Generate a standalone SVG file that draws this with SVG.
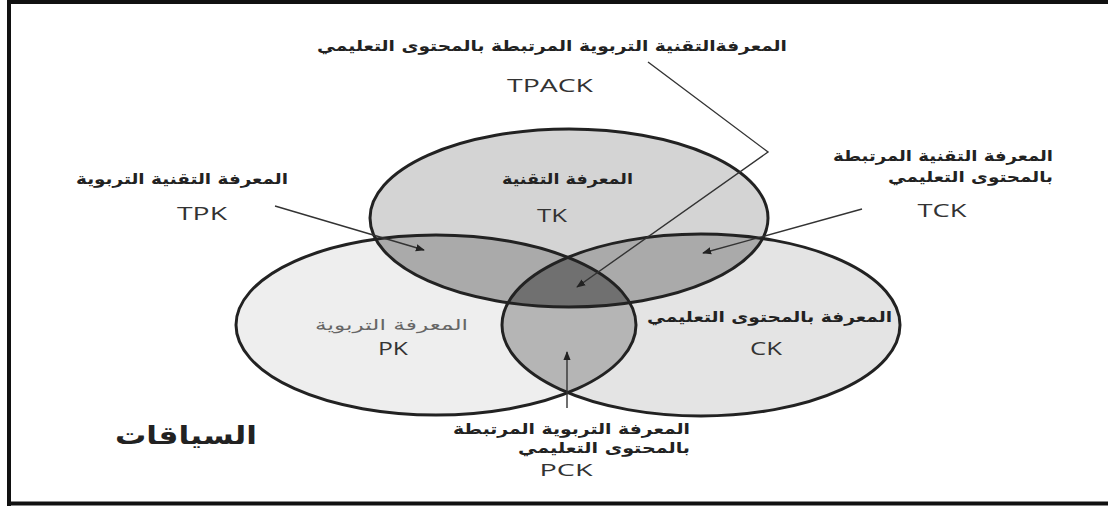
<svg xmlns="http://www.w3.org/2000/svg" width="1108" height="508" viewBox="0 0 1108 508">
<style>
.ar{font-family:"DejaVu Sans",sans-serif;font-weight:bold;font-size:15px;fill:#222}
.la{font-family:"Open Sans","Liberation Sans",sans-serif;font-size:19px;fill:#333}
.arl{font-family:"DejaVu Sans",sans-serif;font-size:15px;fill:#666}
.edge{stroke:#222;stroke-width:3;fill:none}
.con{stroke:#333;stroke-width:1.4;fill:none}
</style>
<defs>
<marker id="ah" viewBox="0 0 10 10" refX="9" refY="5" markerWidth="9" markerHeight="9" markerUnits="userSpaceOnUse" orient="auto">
<path d="M0,1 L10,5 L0,9 z" fill="#222"/>
</marker>
<clipPath id="cTK"><ellipse cx="569" cy="218" rx="199" ry="89"/></clipPath>
<clipPath id="cPK"><ellipse cx="436" cy="325" rx="200" ry="90"/></clipPath>
<clipPath id="cCK"><ellipse cx="701" cy="325" rx="199" ry="91"/></clipPath>
</defs>
<rect x="0" y="0" width="1108" height="508" fill="#fff"/>
<path d="M9,2 H1112 M9,0 V506 M7,503.5 H1112" stroke="#111" stroke-width="4" fill="none"/>
<g id="fills">
<ellipse cx="436" cy="325" rx="200" ry="90" fill="#eeeeee"/>
<ellipse cx="701" cy="325" rx="199" ry="91" fill="#e4e4e4"/>
<ellipse cx="569" cy="218" rx="199" ry="89" fill="#d4d4d4"/>
<g clip-path="url(#cPK)"><ellipse cx="701" cy="325" rx="199" ry="91" fill="#b5b5b5"/></g>
<g clip-path="url(#cTK)"><ellipse cx="436" cy="325" rx="200" ry="90" fill="#aaaaaa"/><ellipse cx="701" cy="325" rx="199" ry="91" fill="#aaaaaa"/></g>
<g clip-path="url(#cTK)"><g clip-path="url(#cPK)"><ellipse cx="701" cy="325" rx="199" ry="91" fill="#707070"/></g></g>
</g>
<g id="TK"><ellipse class="edge" cx="569" cy="218" rx="199" ry="89"/>
<text class="ar" x="567.5" y="184" text-anchor="middle" textLength="131" lengthAdjust="spacingAndGlyphs">المعرفة التقنية</text>
<text class="la" x="552" y="222" text-anchor="middle" textLength="30" lengthAdjust="spacingAndGlyphs">TK</text></g>
<g id="PK"><ellipse class="edge" cx="436" cy="325" rx="200" ry="90"/>
<text class="arl" x="391.5" y="330" text-anchor="middle" textLength="153" lengthAdjust="spacingAndGlyphs">المعرفة التربوية</text>
<text class="la" x="393" y="355" text-anchor="middle" textLength="30" lengthAdjust="spacingAndGlyphs">PK</text></g>
<g id="CK"><ellipse class="edge" cx="701" cy="325" rx="199" ry="91"/>
<text class="ar" x="769.5" y="322" text-anchor="middle" textLength="245" lengthAdjust="spacingAndGlyphs">المعرفة بالمحتوى التعليمي</text>
<text class="la" x="766" y="355" text-anchor="middle" textLength="32" lengthAdjust="spacingAndGlyphs">CK</text></g>
<g id="TPACK">
<text class="ar" x="552" y="51" text-anchor="middle" textLength="470" lengthAdjust="spacingAndGlyphs">المعرفةالتقنية التربوية المرتبطة بالمحتوى التعليمي</text>
<text class="la" x="550" y="92" text-anchor="middle" textLength="86" lengthAdjust="spacingAndGlyphs">TPACK</text></g>
<g id="TPK">
<text class="ar" x="182" y="184" text-anchor="middle" textLength="212" lengthAdjust="spacingAndGlyphs">المعرفة التقنية التربوية</text>
<text class="la" x="202" y="220" text-anchor="middle" textLength="50" lengthAdjust="spacingAndGlyphs">TPK</text></g>
<g id="TCK">
<text class="ar" x="1053" y="161" text-anchor="end" textLength="220" lengthAdjust="spacingAndGlyphs">المعرفة التقنية المرتبطة</text>
<text class="ar" x="1053" y="182" text-anchor="end" textLength="165" lengthAdjust="spacingAndGlyphs">بالمحتوى التعليمي</text>
<text class="la" x="942" y="217" text-anchor="middle" textLength="49" lengthAdjust="spacingAndGlyphs">TCK</text></g>
<g id="PCK">
<text class="ar" x="690" y="434" text-anchor="end" textLength="237" lengthAdjust="spacingAndGlyphs">المعرفة التربوية المرتبطة</text>
<text class="ar" x="690" y="453" text-anchor="end" textLength="172" lengthAdjust="spacingAndGlyphs">بالمحتوى التعليمي</text>
<text class="la" x="566" y="476" text-anchor="middle" textLength="53" lengthAdjust="spacingAndGlyphs" style="font-size:17px">PCK</text></g>
<g id="contexts">
<text x="186" y="444" text-anchor="middle" textLength="142" lengthAdjust="spacingAndGlyphs" style="font-family:'DejaVu Sans',sans-serif;font-weight:bold;font-size:25px;fill:#222">السياقات</text></g>
<g id="connectors">
<polyline class="con" points="648,62 768,152 577,287" marker-end="url(#ah)"/>
<line class="con" x1="275" y1="206" x2="424" y2="250" marker-end="url(#ah)"/>
<line class="con" x1="862" y1="209" x2="703" y2="253" marker-end="url(#ah)"/>
<line class="con" x1="567" y1="408" x2="567" y2="352" marker-end="url(#ah)"/>
</g>
</svg>
